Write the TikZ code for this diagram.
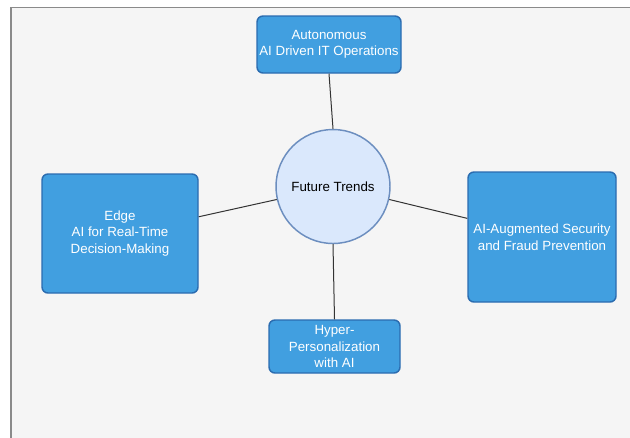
\documentclass[tikz,border=0pt]{standalone}
\usepackage{fontspec}
\setmainfont{Liberation Sans}
\definecolor{pagebg}{HTML}{F5F5F5}
\definecolor{pageline}{HTML}{8A8A8A}
\definecolor{boxfill}{HTML}{419FE0}
\definecolor{boxline}{HTML}{2B6CB0}
\definecolor{hubfill}{HTML}{DAE8FC}
\definecolor{hubline}{HTML}{6C8EBF}
\definecolor{wire}{HTML}{333333}

\begin{document}
\begin{tikzpicture}[
      x=0.75pt, y=-0.75pt,
      trend/.style={draw=boxline,fill=boxfill,line width=1.1pt,rounded corners=4.5pt,
        text=white,align=center,inner sep=1pt,font=\fontsize{10}{12.4}\selectfont},
      hub/.style={circle,draw=hubline,fill=hubfill,line width=1.1pt,minimum size=85.5pt,
        inner sep=0pt,font=\fontsize{10}{12.4}\selectfont},
      link/.style={draw=wire,line width=0.75pt}
    ]
    \useasboundingbox (0,0) rectangle (630,437);
    % Draw the page.
    \draw[fill=pagebg,draw=pageline,line width=1pt] (11,440) -- (11,7.5) -- (634,7.5) -- (634,440) -- cycle;
    % Draw the trend boxes.
    \node[hub] (ft) at (333,186.5) {Future Trends};
    \node[trend,minimum width=108pt,minimum height=42.75pt] (auto) at (329,44.5)
      {Autonomous\\AI Driven IT Operations};
    \node[trend,minimum width=117pt,minimum height=89.25pt] (edge) at (120,233.5)
      {Edge\\AI for Real-Time\\Decision-Making};
    \node[trend,minimum width=111pt,minimum height=97.5pt] (sec) at (542,237)
      {AI-Augmented Security\\and Fraud Prevention};
    \node[trend,minimum width=98.25pt,minimum height=39.75pt] (hyper) at (334.5,346.5)
      {Hyper-\\Personalization\\with AI};
    % Draw the links.
    \draw[link] (auto.south) -- (ft.north);
    \draw[link] (ft.south) -- (hyper.north);
    \draw[link] (edge.12) -- (ft.193);
    \draw[link] (ft.-13) -- (sec.166);
\end{tikzpicture}
\end{document}
